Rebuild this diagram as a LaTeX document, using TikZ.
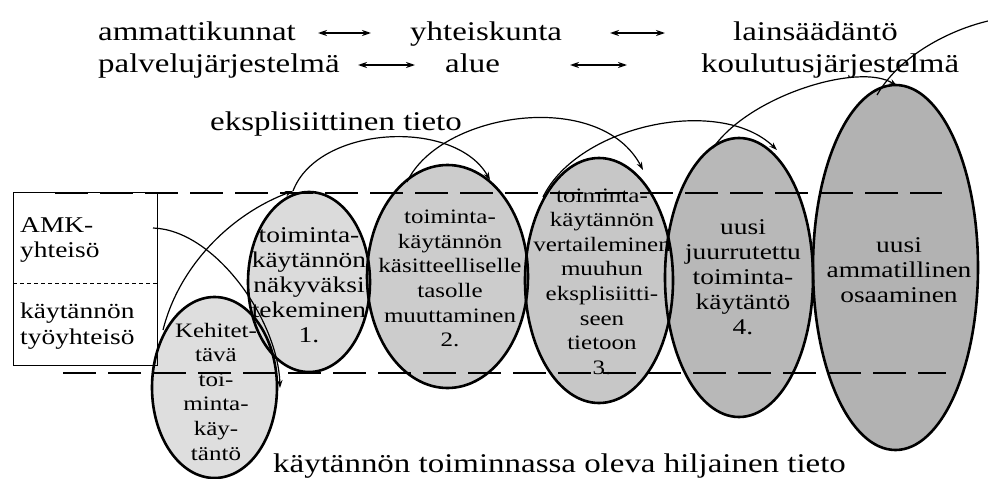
\documentclass[tikz,border=0pt]{standalone}
\usepackage{fontspec}
\setmainfont{Liberation Serif}[FakeStretch=1.22]
\usetikzlibrary{shapes.geometric,arrows.meta}
\definecolor{g0}{gray}{0.87}
\definecolor{g1}{gray}{0.86}
\definecolor{g2}{gray}{0.80}
\definecolor{g3}{gray}{0.78}
\definecolor{g4}{gray}{0.72}
\definecolor{g5}{gray}{0.70}
\begin{document}
\begin{tikzpicture}[x=1pt,y=-1pt,
  toptext/.style={inner sep=0pt, anchor=base west, font=\fontsize{27}{32}\selectfont},
  boxtext/.style={inner sep=0pt, anchor=base west, font=\fontsize{22.5}{26}\selectfont},
  eltext/.style={inner sep=0pt, align=center, font=\fontsize{20.5}{24.6}\selectfont},
  eltextbig/.style={inner sep=0pt, align=center, font=\fontsize{22.5}{25}\selectfont},
  elnode/.style={ellipse, draw, line width=2.6pt, inner sep=0pt},
  twoway/.style={{Stealth[length=9pt,width=6pt]}-{Stealth[length=9pt,width=6pt]}, line width=1.4pt},
  arcline/.style={line width=1.2pt, -{Stealth[length=8pt,width=5.5pt]}},
  plainarc/.style={line width=1.2pt},
  levelline/.style={line width=2.8pt, dash pattern=on 33pt off 12pt},
]
\useasboundingbox (0,0) rectangle (988,479);

% top rows
\node[toptext] (amm) at (98,40) {ammattikunnat};
\node[toptext] (yht) at (410,40) {yhteiskunta};
\node[toptext] (lak) at (733,40) {lainsäädäntö};
\node[toptext] (pal) at (98,72) {palvelujärjestelmä};
\node[toptext] (alu) at (445,72) {alue};
\node[toptext] (kou) at (701,72) {koulutusjärjestelmä};
\coordinate (r1a) at (318,33); \coordinate (r1b) at (371,33);
\coordinate (r1c) at (610,33); \coordinate (r1d) at (665,33);
\coordinate (r2a) at (358,65); \coordinate (r2b) at (415,65);
\coordinate (r2c) at (570,65); \coordinate (r2d) at (627,65);
\draw[twoway] (r1a) -- (r1b);
\draw[twoway] (r1c) -- (r1d);
\draw[twoway] (r2a) -- (r2b);
\draw[twoway] (r2c) -- (r2d);

\node[toptext] (eks) at (210,130) {eksplisiittinen tieto};
\node[toptext] (hil) at (273,472) {käytännön toiminnassa oleva hiljainen tieto};

% ellipse centres
\coordinate (c0) at (214.5,387.5);
\coordinate (c1) at (309,282);
\coordinate (c2) at (447.5,276.5);
\coordinate (c3) at (599,280.5);
\coordinate (c4) at (739,277.5);
\coordinate (c5) at (895.5,267.5);

% fills
\fill[g5] (c5) ellipse [x radius=82.5pt, y radius=182.5pt];
\fill[g4] (c4) ellipse [x radius=74pt, y radius=139.5pt];
\fill[g3] (c3) ellipse [x radius=74pt, y radius=122.5pt];
\fill[g2] (c2) ellipse [x radius=80.5pt, y radius=111.5pt];
\fill[g1] (c1) ellipse [x radius=61pt, y radius=90pt];
\fill[g0] (c0) ellipse [x radius=62.5pt, y radius=90.5pt];

% left box
\node[draw, line width=0.9pt, minimum width=144pt, minimum height=173pt, inner sep=0pt, anchor=north west] (box) at (13,192) {};
\coordinate (sepL) at (13,283);
\coordinate (sepR) at (157,283);
\draw[line width=0.7pt, dash pattern=on 4pt off 3pt] (sepL) -- (sepR);
\node[boxtext] (amk) at (20,232) {AMK-};
\node[boxtext] (amk2) at (20,257) {yhteisö};
\node[boxtext] (kay) at (20,318) {käytännön};
\node[boxtext] (kay2) at (20,344) {työyhteisö};

% level lines
\coordinate (tl) at (55,193); \coordinate (tr) at (942,193);
\coordinate (bl) at (63,373); \coordinate (br) at (946,373);
\draw[levelline] (tl) -- (tr);
\draw[levelline] (bl) -- (br);

% ellipse outlines
\node[elnode, minimum width=165pt, minimum height=365pt] (e5) at (c5) {};
\node[elnode, minimum width=148pt, minimum height=279pt] (e4) at (c4) {};
\node[elnode, minimum width=148pt, minimum height=245pt] (e3) at (c3) {};
\node[elnode, minimum width=161pt, minimum height=223pt] (e2) at (c2) {};
\node[elnode, minimum width=122pt, minimum height=180pt] (e1) at (c1) {};
\node[elnode, minimum width=125pt, minimum height=181pt] (e0) at (c0) {};

% arcs
\coordinate (a0s) at (153,228);
\coordinate (a0e) at (280,388);
\coordinate (a1s) at (163,330);
\coordinate (a1e) at (293,191);
\coordinate (a2e) at (490,180);
\coordinate (a3s) at (407,182);
\coordinate (a3e) at (643,170);
\coordinate (a4s) at (543,197);
\coordinate (a4e) at (777,150);
\coordinate (a5s) at (713,148);
\coordinate (a5e) at (897,86);
\coordinate (a6s) at (877,95);
\coordinate (a6e) at (988,21);
\draw[arcline] (a0s) .. controls (215,230) and (278,320) .. (a0e);
\draw[arcline] (a1s) .. controls (179,266) and (231,214) .. (a1e);
\draw[arcline] (a1e) .. controls (318,125) and (455,118) .. (a2e);
\draw[arcline] (a3s) .. controls (440,112) and (600,88) .. (a3e);
\draw[arcline] (a4s) .. controls (578,125) and (720,95) .. (a4e);
\draw[arcline] (a5s) .. controls (750,95) and (860,62) .. (a5e);
\draw[plainarc] (a6s) .. controls (900,55) and (950,30) .. (a6e);

% ellipse texts
\node[eltext] (t0) at (216,391.5) {Kehitet-\\tävä\\toi-\\minta-\\käy-\\täntö};
\node[eltextbig] (t1) at (309,285) {toiminta-\\käytännön\\näkyväksi\\tekeminen\\1.};
\node[eltext] (t2) at (450,278.5) {toiminta-\\käytännön\\käsitteelliselle\\tasolle\\muuttaminen\\2.};
\node[eltext] (t3) at (602,281.5) {toiminta-\\käytännön\\vertaileminen\\muuhun\\eksplisiitti-\\seen\\tietoon\\3.};
\node[eltextbig] (t4) at (743,277.5) {uusi\\juurrutettu\\toiminta-\\käytäntö\\4.};
\node[eltextbig] (t5) at (899,270) {uusi\\ammatillinen\\osaaminen};
\end{tikzpicture}
\end{document}
